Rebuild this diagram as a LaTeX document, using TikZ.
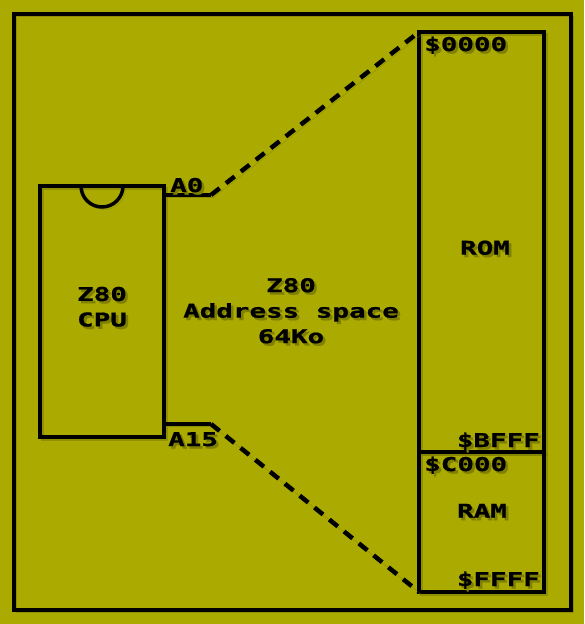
\documentclass[tikz,border=0pt]{standalone}
\usepackage{fontspec}
\usetikzlibrary{positioning}
\newfontfamily\pixfont[FakeStretch=1.45,FakeBold=0.8]{DejaVu Sans Mono Bold}
\definecolor{bgolive}{HTML}{AAAA00}
\definecolor{shadeolive}{HTML}{808000}
% text with a small drop shadow
\newcommand\shd[1]{\rlap{\hspace{2.5pt}\raisebox{-2.5pt}{\color{shadeolive}#1}}#1}

\begin{document}
\begin{tikzpicture}[x=1pt,y=-1pt]
\tikzset{
  shadowed/.style={preaction={draw=shadeolive,opacity=0.6,transform canvas={shift={(2.5pt,-2.5pt)}}}},
  wire/.style={draw=black,line width=3.5pt,shadowed},
  chip/.style={wire,rectangle,inner sep=0pt,outer sep=0pt},
  dashline/.style={draw=black,line width=4.5pt,dash pattern=on 11pt off 8pt,shadowed},
  lbl/.style={inner sep=0pt,font=\pixfont\fontsize{19}{25.5}\selectfont,align=center}
}
\useasboundingbox (0,0) rectangle (584,624);
\fill[bgolive] (0,0) rectangle (584,624);
\draw[wire] (14,14) rectangle (571,610);

% CPU
\node[chip,minimum width=124pt,minimum height=251pt] (cpu) at (102,311.5) {};
\draw[wire] ([xshift=-21pt]cpu.north) arc (180:0:21);
\node[lbl] (cpulbl) at (102,308) {\shd{Z80}\\\shd{CPU}};
\coordinate (a0end) at (211,195);
\coordinate (a15end) at (211,424);
\draw[wire] (cpu.east |- a0end) -- (a0end);
\draw[wire] (cpu.east |- a15end) -- (a15end);
\node[lbl,anchor=base west] (a0lbl) at (170,192) {\shd{A0}};
\node[lbl,anchor=base west] (a15lbl) at (168,446) {\shd{A15}};

% memory map
\node[chip,minimum width=125pt,minimum height=420pt,anchor=north west] (rom) at (419,32) {};
\node[chip,minimum width=125pt,minimum height=140pt,anchor=north west] (ram) at (rom.south west) {};
\node[lbl] (romlbl) at (485,249) {\shd{ROM}};
\node[lbl] (ramlbl) at (482,512) {\shd{RAM}};
\node[lbl,anchor=base west] (addr0) at (424,51) {\shd{\$0000}};
\node[lbl,anchor=base east] (addr1) at (540,447) {\shd{\$BFFF}};
\node[lbl,anchor=base west] (addr2) at (424,471) {\shd{\$C000}};
\node[lbl,anchor=base east] (addr3) at (540,586) {\shd{\$FFFF}};

\draw[dashline] (a0end) -- (rom.north west);
\draw[dashline] (a15end) -- (ram.south west);

\node[lbl] (space) at (291,312) {\shd{Z80}\\\shd{Address space}\\\shd{64Ko}};
\end{tikzpicture}
\end{document}
